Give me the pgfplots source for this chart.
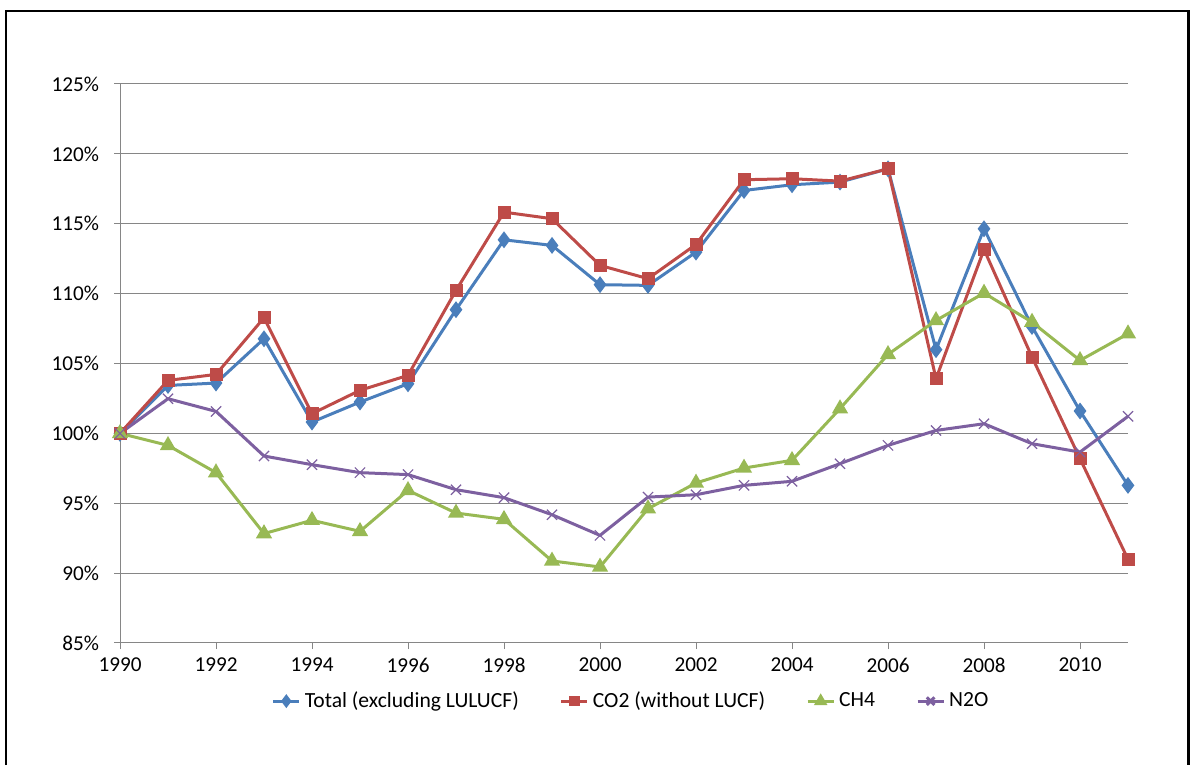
\documentclass[border=0pt]{standalone}
\usepackage{fontspec}
\setmainfont{Carlito}
\usepackage{pgfplots}
\pgfplotsset{compat=1.18}
\definecolor{cTot}{HTML}{4A7EBB}
\definecolor{cCO}{HTML}{BE4B48}
\definecolor{cCH}{HTML}{98B954}
\definecolor{cNO}{HTML}{7D60A0}
\definecolor{cGrid}{HTML}{868686}
\begin{document}
\begin{tikzpicture}
\useasboundingbox (0,0) rectangle (596pt,382.5pt);
\draw[black,line width=1.3pt] (3pt,0) -- (3pt,377pt) -- (594.3pt,377pt) -- (594.3pt,0);
\begin{axis}[
  at={(60pt,61pt)}, anchor=south west,
  scale only axis, width=504pt, height=279.5pt,
  xmin=1990, xmax=2011, ymin=85, ymax=125,
  axis x line*=bottom, axis y line*=left,
  axis line style={cGrid, line width=0.5pt},
  xtick={1990,1992,...,2010},
  xticklabels={1990,1992,1994,1996,1998,2000,2002,2004,2006,2008,2010},
  ytick={85,90,...,125},
  yticklabels={85\%,90\%,95\%,100\%,105\%,110\%,115\%,120\%,125\%},
  ymajorgrids, grid style={cGrid, line width=0.5pt},
  tick align=outside, major tick length=3pt,
  tick style={cGrid, line width=0.5pt},
  ticklabel style={font=\fontsize{10.6}{12}\selectfont, black},
  yticklabel style={xshift=-4pt},
  xticklabel style={yshift=-1pt},
  clip=false,
  legend columns=4,
  legend style={at={(0.508,-0.104)}, anchor=center, draw=none, fill=none,
    font=\fontsize{10.8}{12}\selectfont, /tikz/every even column/.append style={column sep=18.5pt}},
  legend image code/.code={\draw[mark repeat=2,mark phase=2,mark options={scale=0.75}] plot coordinates {(0pt,0pt)(6.5pt,0pt)(13pt,0pt)};},
  every axis plot/.append style={line width=1.5pt},
]
\addplot[cTot, mark=diamond*, mark size=3pt, mark options={solid}] coordinates {
(1990,100)(1991,103.43)(1992,103.6)(1993,106.77)(1994,100.81)(1995,102.24)(1996,103.55)(1997,108.85)(1998,113.85)(1999,113.45)(2000,110.64)(2001,110.59)(2002,112.97)(2003,117.38)(2004,117.79)(2005,117.98)(2006,118.93)(2007,105.99)(2008,114.64)(2009,107.65)(2010,101.6)(2011,96.28)};
\addlegendentry{Total (excluding LULUCF)}
\addplot[cCO, mark=square*, mark size=2.5pt] coordinates {
(1990,100)(1991,103.79)(1992,104.22)(1993,108.27)(1994,101.41)(1995,103.08)(1996,104.15)(1997,110.23)(1998,115.83)(1999,115.36)(2000,112.02)(2001,111.07)(2002,113.52)(2003,118.15)(2004,118.22)(2005,118.05)(2006,118.93)(2007,103.91)(2008,113.16)(2009,105.46)(2010,98.19)(2011,90.99)};
\addlegendentry{CO2 (without LUCF)}
\addplot[cCH, mark=triangle*, mark size=3.2pt] coordinates {
(1990,100)(1991,99.14)(1992,97.19)(1993,92.83)(1994,93.78)(1995,92.99)(1996,95.92)(1997,94.30)(1998,93.85)(1999,90.87)(2000,90.44)(2001,94.61)(2002,96.45)(2003,97.52)(2004,98.07)(2005,101.77)(2006,105.65)(2007,108.08)(2008,110.04)(2009,107.96)(2010,105.22)(2011,107.13)};
\addlegendentry{CH4}
\addplot[cNO, mark=x, mark size=3.6pt, mark options={line width=0.6pt}] coordinates {
(1990,100)(1991,102.48)(1992,101.57)(1993,98.38)(1994,97.76)(1995,97.19)(1996,97.05)(1997,95.97)(1998,95.40)(1999,94.18)(2000,92.70)(2001,95.44)(2002,95.61)(2003,96.28)(2004,96.57)(2005,97.83)(2006,99.14)(2007,100.21)(2008,100.69)(2009,99.26)(2010,98.66)(2011,101.22)};
\addlegendentry{N2O}
\end{axis}
\end{tikzpicture}
\end{document}
